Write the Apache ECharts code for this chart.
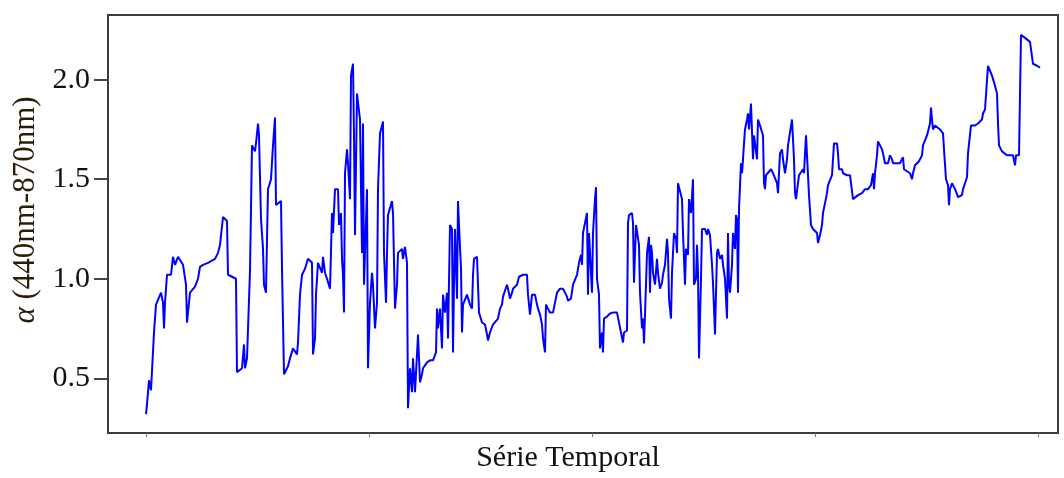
<!DOCTYPE html>
<html>
<head>
<meta charset="utf-8">
<title>Série Temporal</title>
<style>
html, body { margin: 0; padding: 0; background: #fff; }
#chart { width: 1064px; height: 478px; }
</style>
</head>
<body>
<div id="chart"></div>
<script src="https://cdn.jsdelivr.net/npm/echarts@6/dist/echarts.min.js"></script>
<script>
// tick positions
const yTicks = [0.5, 1.0, 1.5, 2.0];
const xTicks = [0, 223, 446, 669, 892];

// [sample, alpha 440-870nm]
const alphaSeries = [
  [0,.32],[1,.37],[3,.49],[5,.44],[7,.45],[8,.73],[10,.87],[12,.88],[15,.93],[17,.88],[18,.75],[19,.88],
  [21,1.02],[25,1.02],[27,1.11],[29,1.07],[32,1.11],[37,1.07],[40,.97],[41,.78],[42,.78],[44,.93],[49,.96],
  [52,1.0],[54,1.06],[57,1.07],[62,1.08],[69,1.1],[72,1.13],[74,1.17],[77,1.31],[81,1.29],[82,1.02],[90,1.0],
  [91,.53],[96,.55],[98,.67],[99,.55],[101,.6],[103,.6],[104,1.04],[106,1.67],[109,1.64],[110,1.68],[112,1.78],
  [113,1.72],[115,1.3],[117,1.15],[118,.97],[120,.93],[121,1.2],[122,1.45],[125,1.5],[127,1.67],[129,1.81],
  [130,1.37],[135,1.39],[136,1.05],[138,.52],[140,.53],[142,.56],[144,.6],[147,.65],[151,.62],[152,.68],
  [154,.92],[156,1.02],[159,1.05],[162,1.1],[166,1.08],[167,.62],[169,.7],[170,.92],[172,1.08],[176,1.03],
  [177,1.11],[179,1.03],[181,1.0],[184,.95],[186,1.33],[187,1.23],[189,1.45],[192,1.45],[193,1.27],[195,1.33],
  [196,1.1],[197,1.02],[198,.83],[199,1.53],[201,1.65],[202,1.58],[204,1.4],[205,2.02],[207,2.08],[208,1.72],
  [209,1.22],[211,1.93],[212,1.92],[214,1.8],[216,1.13],[217,1.78],[218,.97],[221,1.45],[222,.55],[224,.88],
  [226,1.03],[227,.97],[229,.75],[231,.88],[232,1.45],[234,1.73],[237,1.79],[238,1.13],[240,.88],[241,1.13],
  [242,1.32],[246,1.39],[247,1.33],[249,.85],[251,.97],[252,1.13],[256,1.15],[257,1.1],[259,1.16],[261,1.08],
  [262,.35],[264,.55],[266,.43],[267,.6],[269,.43],[271,.62],[272,.72],[274,.48],[276,.52],[277,.55],[281,.58],
  [284,.59],[287,.59],[290,.63],[291,.85],[292,.75],[294,.85],[296,.65],[297,.92],[299,.83],[301,.93],[302,.7],
  [304,1.27],[306,1.25],[307,.63],[308,.97],[309,1.25],[311,.9],[312,1.39],[313,1.27],[315,1.05],[316,.73],
  [317,.87],[318,.88],[321,.92],[322,.92],[324,.87],[326,.85],[327,1.02],[328,1.1],[331,1.11],[332,1.1],
  [333,.83],[336,.78],[339,.77],[341,.72],[342,.69],[344,.73],[347,.77],[349,.78],[352,.8],[354,.85],[356,.87],
  [357,.91],[359,.92],[361,.97],[362,.95],[364,.9],[366,.93],[367,.95],[371,.97],[373,1.01],[377,1.02],
  [381,1.02],[382,.92],[384,.82],[386,.92],[389,.92],[391,.87],[392,.85],[394,.82],[396,.77],[397,.7],[399,.63],
  [400,.87],[402,.87],[404,.83],[407,.83],[409,.82],[411,.93],[414,.95],[417,.95],[419,.93],[421,.91],[422,.89],
  [425,.9],[427,.97],[429,.98],[431,1.02],[433,1.08],[435,1.12],[436,1.07],[437,1.23],[439,1.28],[441,1.33],
  [442,.92],[443,1.23],[444,1.13],[446,.93],[447,1.23],[449,1.4],[450,1.46],[451,1.0],[452,1.0],[453,.92],
  [454,.65],[456,.73],[457,.63],[458,.8],[461,.81],[464,.825],[467,.83],[471,.83],[473,.83],[475,.73],[477,.68],
  [478,.73],[481,.74],[482,1.28],[483,1.32],[486,1.33],[487,1.28],[488,.98],[490,1.27],[492,1.27],[493,1.17],
  [494,.93],[496,.75],[497,.8],[498,.675],[500,.97],[501,1.13],[503,1.21],[504,.93],[505,1.17],[506,1.13],
  [507,1.03],[509,.97],[511,1.1],[512,1.03],[514,.95],[516,.98],[517,1.02],[519,1.07],[521,1.2],[522,1.13],
  [523,.9],[525,.8],[526,1.03],[528,1.23],[530,1.2],[531,1.13],[532,1.48],[534,1.47],[536,1.4],[537,1.23],
  [539,.97],[540,1.15],[542,1.12],[543,1.4],[545,1.33],[547,1.5],[548,.97],[550,1.0],[551,1.17],[552,1.03],
  [553,.6],[555,1.0],[556,1.25],[559,1.25],[561,1.22],[562,1.25],[564,1.22],[566,1.07],[567,.98],[569,.72],
  [571,1.13],[572,1.15],[574,1.1],[576,1.12],[577,1.07],[579,1.0],[581,.8],[582,1.23],[583,.97],[584,.93],
  [586,1.07],[587,1.23],[589,1.15],[590,1.32],[591,1.3],[592,.93],[593,1.35],[595,1.58],[596,1.53],[597,1.6],
  [598,1.68],[599,1.75],[601,1.8],[602,1.83],[603,1.75],[605,1.88],[606,1.88],[607,1.6],[608,1.72],[610,1.72],
  [611,1.6],[612,1.8],[614,1.77],[616,1.77],[617,1.72],[618,1.48],[619,1.45],[620,1.52],[622,1.53],[625,1.55],
  [627,1.53],[629,1.52],[631,1.48],[632,1.43],[634,1.63],[636,1.65],[637,1.6],[639,1.53],[641,1.6],[642,1.67],
  [644,1.67],[646,1.8],[647,1.81],[648,1.6],[649,1.43],[650,1.4],[651,1.4],[653,1.52],[655,1.53],[657,1.55],
  [658,1.53],[660,1.72],[661,1.62],[663,1.42],[665,1.27],[667,1.25],[669,1.25],[671,1.23],[672,1.18],[674,1.22],
  [676,1.27],[677,1.33],[679,1.38],[681,1.43],[682,1.47],[684,1.48],[686,1.52],[687,1.52],[688,1.68],[691,1.68],
  [692,1.63],[693,1.55],[696,1.55],[697,1.53],[701,1.52],[704,1.52],[707,1.4],[709,1.4],[712,1.42],[716,1.43],
  [719,1.45],[722,1.45],[725,1.47],[727,1.53],[728,1.45],[729,1.53],[731,1.62],[732,1.69],[734,1.68],[736,1.65],
  [737,1.63],[739,1.58],[741,1.57],[742,1.58],[744,1.62],[746,1.6],[747,1.58],[751,1.58],[754,1.58],[757,1.61],
  [758,1.55],[761,1.54],[764,1.53],[766,1.5],[767,1.53],[769,1.57],[771,1.58],[773,1.59],[776,1.62],[777,1.67],
  [779,1.68],[781,1.72],[782,1.73],[784,1.78],[785,1.86],[786,1.8],[787,1.75],[789,1.77],[791,1.76],[794,1.75],
  [797,1.73],[798,1.65],[800,1.5],[802,1.47],[803,1.37],[804,1.45],[806,1.48],[807,1.48],[809,1.45],[811,1.425],
  [812,1.41],[814,1.4],[816,1.42],[817,1.45],[819,1.48],[821,1.51],[822,1.63],[823,1.63],[825,1.77],[827,1.77],
  [829,1.77],[831,1.78],[832,1.78],[834,1.77],[836,1.8],[837,1.83],[839,1.85],[841,1.85],[842,2.07],[844,2.08],
  [846,2.02],[847,2.03],[849,1.97],[851,1.93],[852,1.78],[853,1.67],[856,1.64],[857,1.63],[861,1.62],[864,1.62],
  [867,1.62],[869,1.57],[870,1.62],[872,1.62],[873,1.62],[875,2.225],[877,2.22],[879,2.21],[881,2.2],[884,2.19],
  [886,2.19],[887,2.08],[888,2.07],[891,2.07],[892,2.07],[894,2.06]
];

const serif = 'Liberation Serif';

let myChart = echarts.init(document.getElementById('chart'));
myChart.setOption({
  animation: false,
  grid: {
    left: 108, right: 6, top: 15, bottom: 43,
    show: true, borderColor: '#3c3c3c', borderWidth: 2
  },
  xAxis: {
    type: 'value',
    min: -38,
    max: 912,
    name: 'Série Temporal',
    nameLocation: 'middle',
    nameGap: 10,
    nameTextStyle: { fontFamily: serif, fontSize: 30, color: '#111', padding: [0, 30, 0, 0] },
    axisLine: { show: false, onZero: false },
    splitLine: { show: false },
    axisLabel: { show: false },
    axisTick: { show: true, length: 4, customValues: xTicks, lineStyle: { color: '#777' } }
  },
  yAxis: {
    type: 'value',
    min: 0.225,
    max: 2.325,
    name: '{a|α} (440nm-870nm)',
    nameLocation: 'middle',
    nameGap: 66,
    nameRotate: 90,
    nameTextStyle: {
      fontFamily: serif, fontSize: 31, color: '#2a1c08', padding: [0, 0, 0, 28],
      rich: { a: { fontFamily: serif, fontSize: 31, fontStyle: 'italic', color: '#2a1c08' } }
    },
    axisLine: { show: false, onZero: false },
    splitLine: { show: false },
    axisTick: { show: true, length: 14, customValues: yTicks, lineStyle: { color: '#444', width: 2 } },
    axisLabel: {
      customValues: yTicks,
      margin: 18,
      fontFamily: serif, fontSize: 30, color: '#111',
      formatter: v => v.toFixed(1)
    }
  },
  series: [{
    type: 'line',
    data: alphaSeries,
    showSymbol: false,
    lineStyle: { color: '#0000ff', width: 2 }
  }]
});
</script>
</body>
</html>
